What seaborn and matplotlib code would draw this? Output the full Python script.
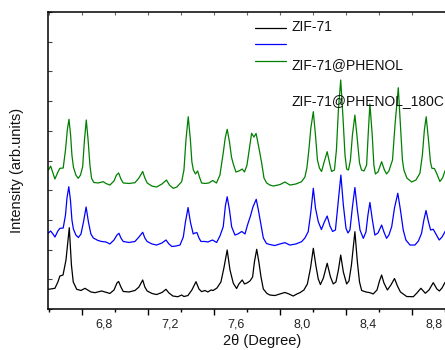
import matplotlib
matplotlib.use("Agg")
import matplotlib.pyplot as plt
from matplotlib.lines import Line2D
from matplotlib.ticker import FixedLocator, MultipleLocator
import numpy as np
import pandas as pd
import seaborn as sns

# ---- XRD patterns (2-theta in degrees, intensity in arbitrary units, stacked) ----
zif71_2theta = [6.464, 6.503, 6.521, 6.533, 6.552, 6.570, 6.590, 6.603, 6.614, 6.635,
                6.661, 6.685, 6.721, 6.746, 6.786, 6.806, 6.836, 6.861, 6.879, 6.889,
                6.903, 6.917, 6.952, 6.988, 7.012, 7.035, 7.048, 7.062, 7.091, 7.119,
                7.152, 7.176, 7.194, 7.218, 7.248, 7.271, 7.285, 7.309, 7.333, 7.358,
                7.376, 7.392, 7.412, 7.430, 7.449, 7.462, 7.485, 7.509, 7.527, 7.547,
                7.564, 7.584, 7.604, 7.618, 7.638, 7.652, 7.667, 7.685, 7.701, 7.712,
                7.726, 7.739, 7.752, 7.766, 7.788, 7.806, 7.836, 7.867, 7.897, 7.921,
                7.947, 7.970, 7.988, 8.012, 8.033, 8.052, 8.069, 8.085, 8.099, 8.112,
                8.130, 8.153, 8.173, 8.190, 8.206, 8.221, 8.235, 8.251, 8.271, 8.285,
                8.300, 8.321, 8.336, 8.349, 8.362, 8.388, 8.412, 8.432, 8.455, 8.470,
                8.483, 8.497, 8.518, 8.539, 8.561, 8.579, 8.597, 8.635, 8.675, 8.697,
                8.721, 8.748, 8.770, 8.796, 8.818, 8.833, 8.849, 8.867, 8.885]
zif71_int = [199, 209, 273, 333, 343, 495, 821, 444, 273, 199,
             187, 209, 172, 165, 182, 172, 157, 192, 263, 278,
             222, 177, 172, 187, 222, 293, 222, 182, 157, 146,
             167, 199, 162, 131, 124, 141, 126, 136, 192, 276,
             202, 175, 187, 172, 192, 187, 212, 273, 414, 596,
             394, 260, 207, 253, 293, 253, 263, 283, 323, 475,
             603, 475, 323, 202, 157, 141, 136, 152, 167, 152,
             131, 152, 165, 192, 253, 414, 613, 434, 303, 247,
             313, 462, 323, 253, 273, 394, 545, 374, 253, 283,
             444, 781, 475, 273, 187, 172, 165, 152, 192, 283,
             343, 263, 192, 242, 308, 232, 172, 126, 124, 162,
             209, 159, 192, 266, 202, 182, 212, 268, 283]

phenol_2theta = [6.464, 6.477, 6.491, 6.503, 6.521, 6.533, 6.553, 6.567, 6.576, 6.587,
                 6.597, 6.606, 6.615, 6.630, 6.645, 6.661, 6.676, 6.692, 6.706, 6.721,
                 6.736, 6.764, 6.786, 6.812, 6.836, 6.861, 6.879, 6.891, 6.903, 6.917,
                 6.952, 6.988, 7.012, 7.035, 7.048, 7.062, 7.091, 7.119, 7.152, 7.176,
                 7.194, 7.212, 7.236, 7.261, 7.281, 7.294, 7.310, 7.324, 7.341, 7.352,
                 7.364, 7.376, 7.388, 7.412, 7.430, 7.458, 7.483, 7.503, 7.523, 7.536,
                 7.547, 7.561, 7.574, 7.594, 7.612, 7.635, 7.655, 7.670, 7.688, 7.703,
                 7.723, 7.736, 7.752, 7.766, 7.785, 7.806, 7.836, 7.867, 7.897, 7.927,
                 7.964, 7.998, 8.018, 8.038, 8.054, 8.069, 8.082, 8.099, 8.118, 8.136,
                 8.153, 8.170, 8.186, 8.203, 8.218, 8.236, 8.251, 8.267, 8.279, 8.291,
                 8.306, 8.321, 8.336, 8.352, 8.372, 8.388, 8.400, 8.412, 8.427, 8.442,
                 8.461, 8.483, 8.497, 8.513, 8.527, 8.544, 8.561, 8.581, 8.597, 8.614,
                 8.630, 8.655, 8.685, 8.706, 8.725, 8.739, 8.752, 8.767, 8.780, 8.796,
                 8.812, 8.832, 8.849, 8.867, 8.885]
phenol_int = [768, 788, 758, 727, 788, 815, 818, 949, 1121, 1235,
              1101, 899, 808, 747, 722, 758, 879, 1030, 879, 758,
              717, 692, 682, 677, 657, 697, 747, 765, 717, 682,
              672, 682, 727, 775, 717, 682, 657, 646, 667, 697,
              657, 631, 636, 646, 727, 879, 1025, 879, 758, 768,
              771, 717, 682, 682, 677, 697, 672, 737, 831, 1040,
              1134, 1000, 831, 747, 758, 783, 758, 848, 939, 1030,
              1108, 1000, 848, 717, 662, 651, 641, 657, 670, 646,
              657, 680, 717, 781, 980, 1219, 1020, 882, 803, 879,
              939, 838, 783, 798, 1050, 1353, 1050, 815, 768, 798,
              1030, 1227, 1000, 798, 714, 778, 949, 1076, 899, 747,
              768, 848, 778, 714, 747, 831, 1020, 1169, 1000, 798,
              697, 646, 646, 687, 765, 899, 995, 879, 798, 805,
              758, 697, 727, 781, 828]

phenol180_2theta = [6.464, 6.477, 6.491, 6.503, 6.521, 6.533, 6.553, 6.567, 6.578, 6.588,
                    6.598, 6.606, 6.615, 6.630, 6.644, 6.658, 6.671, 6.682, 6.693, 6.704,
                    6.715, 6.725, 6.739, 6.765, 6.796, 6.812, 6.836, 6.861, 6.876, 6.889,
                    6.903, 6.917, 6.952, 6.988, 7.012, 7.035, 7.048, 7.062, 7.091, 7.119,
                    7.152, 7.179, 7.197, 7.220, 7.242, 7.271, 7.285, 7.297, 7.311, 7.324,
                    7.333, 7.342, 7.355, 7.368, 7.379, 7.392, 7.412, 7.436, 7.459, 7.482,
                    7.503, 7.523, 7.535, 7.547, 7.561, 7.573, 7.584, 7.600, 7.618, 7.638,
                    7.652, 7.667, 7.682, 7.695, 7.709, 7.722, 7.736, 7.756, 7.770, 7.786,
                    7.806, 7.826, 7.867, 7.897, 7.927, 7.964, 7.998, 8.018, 8.030, 8.042,
                    8.054, 8.069, 8.082, 8.094, 8.106, 8.119, 8.133, 8.153, 8.170, 8.180,
                    8.197, 8.209, 8.221, 8.235, 8.248, 8.261, 8.271, 8.282, 8.294, 8.306,
                    8.321, 8.336, 8.349, 8.361, 8.376, 8.392, 8.403, 8.412, 8.426, 8.436,
                    8.445, 8.461, 8.483, 8.500, 8.513, 8.527, 8.549, 8.564, 8.584, 8.597,
                    8.609, 8.618, 8.636, 8.665, 8.691, 8.715, 8.730, 8.742, 8.753, 8.767,
                    8.779, 8.788, 8.803, 8.818, 8.836, 8.852, 8.867, 8.885]
phenol180_int = [1404, 1444, 1374, 1313, 1384, 1421, 1424, 1606, 1808, 1916,
                 1757, 1555, 1434, 1353, 1320, 1353, 1437, 1707, 1909, 1707,
                 1454, 1320, 1278, 1273, 1286, 1268, 1252, 1293, 1353, 1374,
                 1313, 1273, 1268, 1276, 1323, 1389, 1323, 1273, 1242, 1232,
                 1263, 1303, 1252, 1219, 1232, 1286, 1404, 1707, 1942, 1707,
                 1485, 1404, 1364, 1394, 1333, 1273, 1268, 1273, 1298, 1273,
                 1353, 1576, 1727, 1815, 1687, 1535, 1465, 1384, 1394, 1414,
                 1384, 1454, 1626, 1775, 1737, 1773, 1656, 1475, 1323, 1273,
                 1252, 1242, 1257, 1283, 1252, 1263, 1286, 1333, 1424, 1606,
                 1828, 1993, 1757, 1505, 1424, 1389, 1475, 1589, 1454, 1389,
                 1404, 1606, 2010, 2313, 1959, 1555, 1414, 1404, 1505, 1757,
                 1959, 1707, 1475, 1404, 1394, 1454, 1808, 2071, 1757, 1454,
                 1364, 1384, 1488, 1404, 1364, 1394, 1505, 1858, 2235, 1858,
                 1505, 1404, 1323, 1283, 1303, 1371, 1555, 1808, 1942, 1707,
                 1485, 1421, 1419, 1364, 1288, 1323, 1394, 1454]

series_names = ["ZIF-71", "ZIF-71@PHENOL", "ZIF-71@PHENOL_180C"]
series_colors = ["#000000", "#0000ff", "#008000"]

# axis ticks
label_ticks = [6.8, 7.2, 7.6, 8.0, 8.4, 8.8]
label_texts = ["6,8", "7,2", "7,6", "8,0", "8,4", "8,8"]
long_ticks = [6.667, 7.067, 7.467, 7.867, 8.267, 8.667]
short_ticks = [6.467, 6.867, 7.267, 7.667, 8.067, 8.467, 8.867]

frames = [
    pd.DataFrame({"two_theta": zif71_2theta, "intensity": zif71_int, "sample": series_names[0]}),
    pd.DataFrame({"two_theta": phenol_2theta, "intensity": phenol_int, "sample": series_names[1]}),
    pd.DataFrame({"two_theta": phenol180_2theta, "intensity": phenol180_int, "sample": series_names[2]}),
]
df = pd.concat(frames, ignore_index=True)

sns.set_theme(style="white")
plt.rcParams["font.family"] = ["Liberation Sans", "DejaVu Sans"]

W, H = 445, 350
fig = plt.figure(figsize=(W / 100, H / 100), dpi=100)
ax = fig.add_axes([48 / W, 41 / H, 412 / W, 297 / H])

sns.lineplot(data=df, x="two_theta", y="intensity", hue="sample",
             palette=dict(zip(series_names, series_colors)),
             estimator=None, sort=False, lw=0.9, legend=False, ax=ax)

ax.set_xlim(6.461, 8.958)
ax.set_ylim(0, 3000)

for side in ["left", "bottom", "top", "right"]:
    ax.spines[side].set_color("black")
    ax.spines[side].set_linewidth(1.1)

ax.xaxis.set_major_locator(FixedLocator(long_ticks))
ax.xaxis.set_minor_locator(FixedLocator(short_ticks))
ax.tick_params(axis="x", which="major", direction="out", length=4, width=1,
               color="black", labelbottom=False, bottom=True)
ax.tick_params(axis="x", which="minor", direction="out", length=2, width=1,
               color="black", bottom=True)

ax.yaxis.set_major_locator(MultipleLocator(300))
ax.tick_params(axis="y", which="major", direction="in", length=3, width=0.8,
               color="#444444", labelleft=False, left=True)

# tick labels on their own axis
lab = ax.secondary_xaxis("bottom")
lab.set_xticks(label_ticks)
lab.set_xticklabels(label_texts)
lab.tick_params(length=0, pad=7, labelsize=9, labelcolor="#222222")
lab.spines["bottom"].set_visible(False)

# small inward ticks along the top frame
top = ax.secondary_xaxis("top")
top.set_xticks(long_ticks + short_ticks)
top.tick_params(direction="in", length=2, width=0.8, color="#666666", labeltop=False)
top.spines["top"].set_visible(False)

ax.set_xlabel("2\u03b8 (Degree)", fontsize=10.5, color="#111111")
ax.xaxis.set_label_coords(0.519, -0.085)
ax.set_ylabel("Intensity (arb.units)", fontsize=10.5, color="#111111")
ax.yaxis.set_label_coords(-0.058, 0.468)

# legend
line_rows = [27.7, 44, 61]
for y, c in zip(line_rows, series_colors):
    fig.add_artist(Line2D([255 / W, 286 / W], [1 - y / H, 1 - y / H], color=c, lw=0.9))
text_rows = [27, 65, 101]
for y, name in zip(text_rows, series_names):
    fig.text(291 / W, 1 - y / H, name, fontsize=10, va="center", ha="left", color="#111111")

fig.savefig("out.png", dpi=100)
